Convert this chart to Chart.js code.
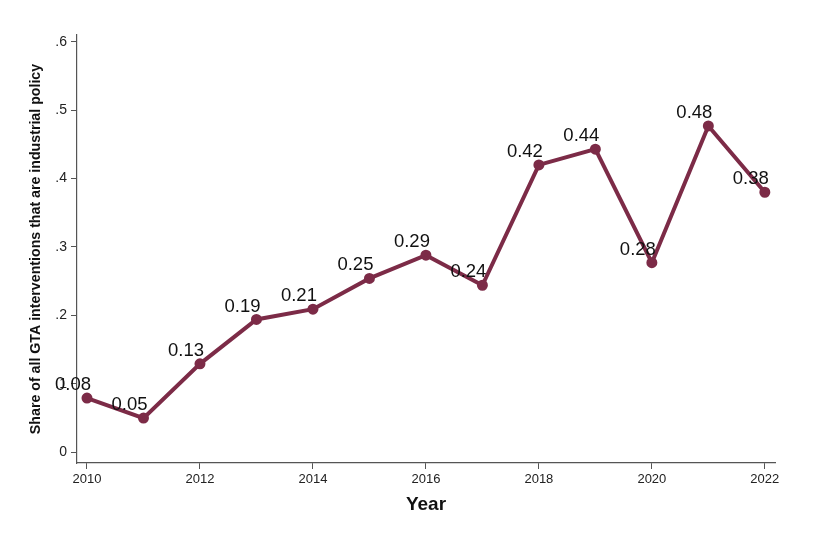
<!DOCTYPE html>
<html><head><meta charset="UTF-8">
<title>GTA industrial policy share</title>
<script src="https://cdn.jsdelivr.net/npm/chart.js"></script>
<style>
  body{margin:0;background:#fff}
  #wrap{width:815px;height:546px}
</style>
</head><body>
<div id="wrap"><canvas id="chart" width="815" height="546"></canvas></div>
<script>
  const years = [2010,2011,2012,2013,2014,2015,2016,2017,2018,2019,2020,2021,2022];
  const shares = [0.079,0.0497,0.129,0.194,0.209,0.254,0.288,0.244,0.42,0.443,0.277,0.477,0.38];
  const yTicks = [0,0.1,0.2,0.3,0.4,0.5,0.6];
  const xTicks = [2010,2012,2014,2016,2018,2020,2022];

  const lineCol = "#7c2b47";
  const font = "'Liberation Sans', Arial, Helvetica, sans-serif";

  // value labels, sitting up and to the left of each marker
  const pointLabels = {
    id: "pointLabels",
    afterDatasetsDraw(chart){
      const ctx = chart.ctx;
      const meta = chart.getDatasetMeta(0);
      ctx.save();
      ctx.font = "18.5px " + font;
      ctx.fillStyle = "#111";
      ctx.textAlign = "center";
      ctx.textBaseline = "middle";
      meta.data.forEach((pt, i) => {
        ctx.fillText(shares[i].toFixed(2), pt.x - 14, pt.y - 13);
      });
      ctx.restore();
    }
  };

  new Chart(document.getElementById("chart"), {
    type: "line",
    data: {
      datasets: [{
        data: years.map((y, i) => ({x: y, y: shares[i]})),
        borderColor: lineCol,
        backgroundColor: lineCol,
        borderWidth: 4,
        pointRadius: 3.5,
        pointHoverRadius: 3.5,
        tension: 0
      }]
    },
    options: {
      responsive: false,
      animation: false,
      events: [],
      layout: {padding: {left: 0, top: 35, right: 40, bottom: 0}},
      plugins: {legend: {display: false}, tooltip: {enabled: false}},
      scales: {
        x: {
          type: "linear",
          min: 2009.823,
          max: 2022.18,
          afterBuildTicks: s => { s.ticks = xTicks.map(v => ({value: v})); },
          afterFit: s => { s.height = 83; },
          ticks: {color: "#222", font: {family: font, size: 13}, padding: 3, maxRotation: 0,
                  callback: v => String(v)},
          grid: {drawOnChartArea: false, drawTicks: true, tickLength: 6, color: "#555"},
          border: {display: true, color: "#555", width: 1.2},
          title: {display: true, text: "Year", color: "#111",
                  font: {family: font, size: 19, weight: "bold"}, padding: {top: 6, bottom: 30}}
        },
        y: {
          min: -0.016,
          max: 0.610,
          afterBuildTicks: s => { s.ticks = yTicks.map(v => ({value: v})); },
          afterFit: s => { s.width = 77; },
          ticks: {color: "#222", font: {family: font, size: 14}, padding: 4,
                  callback: v => v === 0 ? "0" : String(Math.round(v * 10) / 10).replace(/^0/, "")},
          grid: {drawOnChartArea: false, drawTicks: true, tickLength: 6, color: "#555"},
          border: {display: true, color: "#555", width: 1.2},
          title: {display: true, text: "Share of all GTA interventions that are industrial policy", color: "#111",
                  font: {family: font, size: 14.2, weight: "bold"}, padding: {top: 28, bottom: 0}}
        }
      }
    },
    plugins: [pointLabels]
  });
</script>
</body></html>
